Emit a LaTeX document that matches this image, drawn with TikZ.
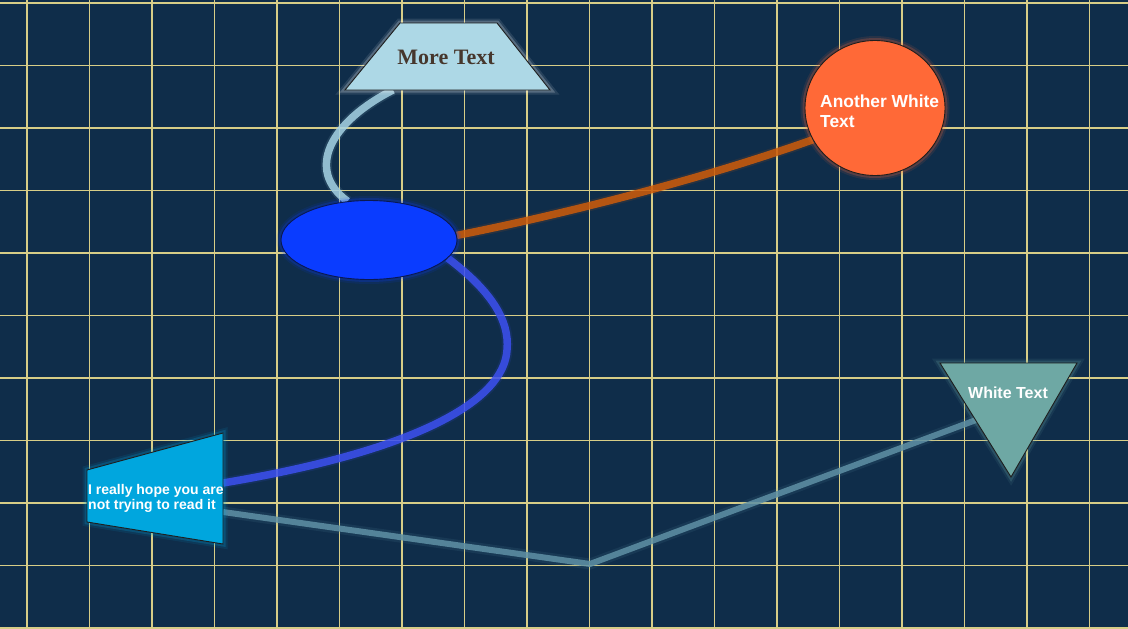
\documentclass[tikz,border=0pt]{standalone}
\usepackage{fontspec}
\setmainfont{Liberation Sans}
\newfontfamily\serifb{Liberation Serif}
\usetikzlibrary{shapes.geometric}
\pgfdeclarelayer{bg}
\pgfsetlayers{bg,main}
\definecolor{bgc}{RGB}{15,45,74}
\definecolor{gridc}{RGB}{215,205,135}
\definecolor{ltblue}{RGB}{173,216,230}
\definecolor{txtdark}{RGB}{70,55,45}
\definecolor{circc}{RGB}{255,105,55}
\definecolor{ellc}{RGB}{10,60,255}
\definecolor{tric}{RGB}{110,168,164}
\definecolor{ltc}{RGB}{0,166,222}
\definecolor{edgec}{RGB}{30,30,30}
\definecolor{topc}{RGB}{165,210,228}
\definecolor{orc}{RGB}{205,92,10}
\definecolor{bluec}{RGB}{60,80,240}
\definecolor{grayc}{RGB}{95,145,165}
\begin{document}
\begin{tikzpicture}[x=1pt,y=-1pt,
  glow/.style={preaction={draw=#1,line width=9pt,draw opacity=0.10},
               preaction={draw=#1,line width=5pt,draw opacity=0.22}},
  shapeline/.style={draw=edgec,line width=0.9pt},
  conn/.style={draw=#1,line width=7.5pt,draw opacity=0.85,
               preaction={draw=#1,line width=11pt,draw opacity=0.12}},
  whitetext/.style={text=white,font=\bfseries},
  gridline/.style={draw=gridc,line width=1.6pt}]
\useasboundingbox (0,0) rectangle (1128,629);

% top trapezoid
\path[shapeline,fill=ltblue,glow=white] (400,23) -- (497,23) -- (550,90) -- (345,90) -- cycle;
\node[font=\serifb\bfseries\fontsize{22}{25}\selectfont,text=txtdark] (mt) at (446,57) {More Text};
\coordinate (mtb) at (393,90);

% ellipse
\node[ellipse,minimum width=176pt,minimum height=79pt,inner sep=0pt,
      draw={rgb,255:red,10;green,25;blue,80},line width=0.9pt,fill=ellc,glow=ellc] (ell) at (369,240) {};

% circle
\node[ellipse,minimum width=140pt,minimum height=135pt,inner sep=0pt,
      shapeline,fill=circc,glow=circc] (circ) at (875,108) {};
\node[whitetext,anchor=west,align=left,font=\bfseries\fontsize{17.4}{20}\selectfont,inner sep=0pt] (circt) at (820,111) {Another White\\Text};

% triangle
\path[shapeline,fill=tric,glow=tric] (940,363) -- (1077,363) -- (1011,477) -- cycle;
\node[whitetext,font=\bfseries\fontsize{16}{19}\selectfont] (tri) at (1008,393) {White Text};
\coordinate (trl) at (976,420);

% left trapezoid
\path[shapeline,fill=ltc,glow=ltc] (87,470) -- (223,433) -- (223,544) -- (87,522) -- cycle;
\node[whitetext,anchor=west,align=left,font=\bfseries\fontsize{14}{15}\selectfont,inner sep=0pt] (lt) at (88,498) {I really hope you are\\not trying to read it};
\coordinate (ltr1) at (223,483);
\coordinate (ltr2) at (223,512);
\coordinate (bend) at (590,564);
\coordinate (bw) at (507,350);

\begin{pgfonlayer}{bg}
  \fill[bgc] (0,0) rectangle (1128,629);
  \foreach \i in {0,...,17} \draw[gridline] ({27+62.5*\i},0) -- ({27+62.5*\i},629);
  \foreach \j in {0,...,10} \draw[gridline] (0,{3+62.5*\j}) -- (1128,{3+62.5*\j});
  \draw[conn=topc] (mtb) .. controls (330,122) and (305,170) .. (ell.119);
  \draw[conn=orc] (ell.3) .. controls (560,215) and (700,180) .. (circ.207);
  \draw[conn=bluec] (ell.-13) .. controls (490,290) and (510,320) .. (bw)
        .. controls (504,400) and (420,450) .. (ltr1);
  \draw[conn=grayc,line width=6pt] (ltr2) -- (bend) -- (trl);
\end{pgfonlayer}
\end{tikzpicture}
\end{document}
